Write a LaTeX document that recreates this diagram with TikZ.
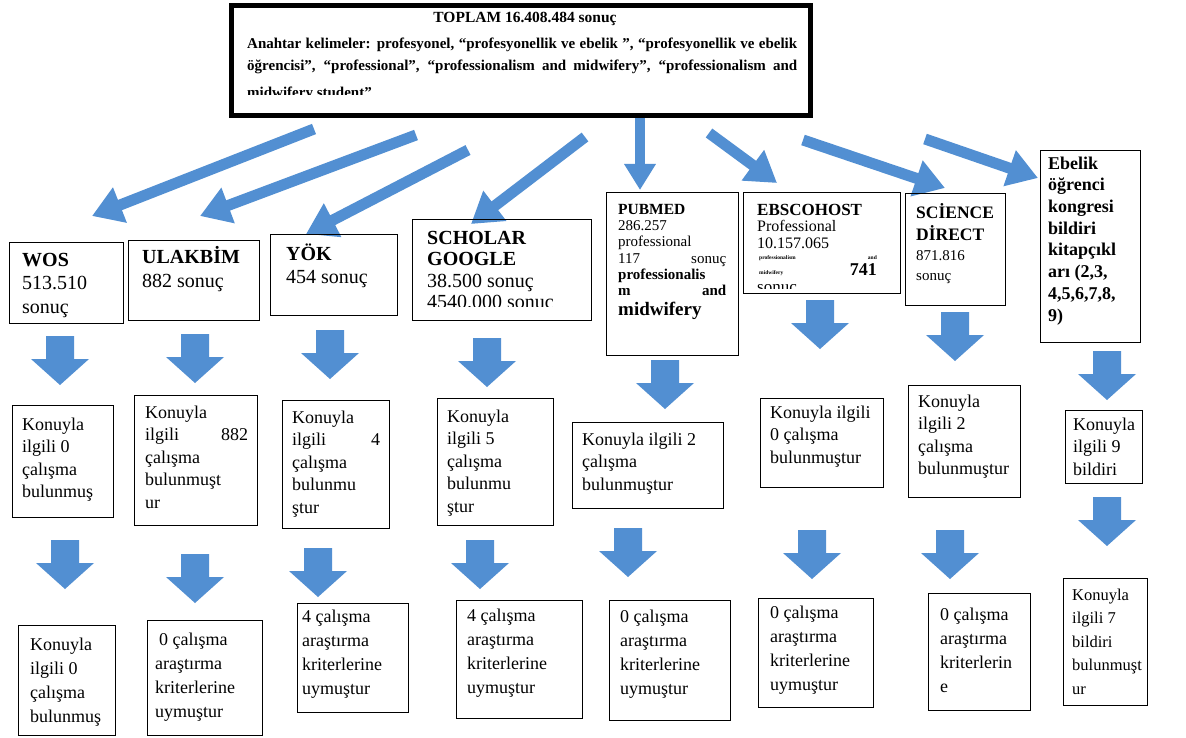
\documentclass[tikz,border=0pt]{standalone}
\usepackage{fontspec}
\setmainfont{Liberation Serif}
\usetikzlibrary{arrows.meta}
\definecolor{ablue}{RGB}{82,143,210}
\newcommand\fsz[2]{\fontsize{#1}{#2}\selectfont}
\newcommand\jl[1]{{\spaceskip=.25em plus 1fil\xspaceskip=0pt\relax\makebox[\hsize][s]{#1}}}
\newcommand\bxn[5]{\node[bx, minimum width={#4pt-#2pt}, minimum height={#5pt-#3pt}] (#1) at (#2,#3) {};}
\newcommand\darr[3]{\coordinate (#1) at (#2,#3);
  \fill[ablue, shift={(#1)}] (-14,0) -- (14,0) -- (14,23) -- (29,23) -- (0,49) -- (-29,23) -- (-14,23) -- cycle;}
\tikzset{
  bx/.style={draw=black, line width=1.2pt, anchor=north west, inner sep=0pt},
  tx/.style={anchor=north west, inner sep=0pt, align=left,
             execute at begin node={\spaceskip=0pt\xspaceskip=0pt\relax}},
  rowtx/.style={tx, font=\fsz{18}{22.5}, text width=120pt},
  lowtx/.style={tx, font=\fsz{18}{24}, text width=120pt},
  bigtx/.style={tx, font=\fsz{20}{23.5}, text width=110pt},
  sl/.style={ablue, line width=11pt, line cap=butt, -{Triangle[width=36pt,length=30pt]}},
}
\begin{document}
\begin{tikzpicture}[x=1pt,y=-1pt]
\useasboundingbox (0,0) rectangle (1186,738);
\fill[white] (0,0) rectangle (1186,738);

% ---------- top box ----------
\node[draw=black, line width=5pt, anchor=north west, inner sep=0pt,
      minimum width=579pt, minimum height=110pt] (top) at (229,3) {};
\node[anchor=base, inner sep=0pt, font=\bfseries\fsz{15.5}{18}] (toplam) at (525,23) {TOPLAM 16.408.484 sonuç};
\begin{scope}
\clip (233,7) rectangle (804,95);
\node[tx, font=\bfseries\fsz{15}{21.5}, text width=550pt] (keys) at (247,33.45)
 {\strut\jl{Anahtar kelimeler: profesyonel, “profesyonellik ve ebelik ”, “profesyonellik ve ebelik}\\
  \jl{öğrencisi”, “professional”, “professionalism and midwifery”, “professionalism and}\\[6pt]
  midwifery student”};
\end{scope}

% ---------- slanted arrows ----------
\coordinate (s1) at (314,129); \coordinate (e1) at (92,216);
\coordinate (s2) at (416,135); \coordinate (e2) at (200,216);
\coordinate (s3) at (468,150); \coordinate (e3) at (306,234);
\coordinate (s4) at (585,137); \coordinate (e4) at (471,224);
\coordinate (s5) at (640,118); \coordinate (e5) at (640,190);
\coordinate (s6) at (709,133); \coordinate (e6) at (777,183);
\coordinate (s7) at (803,140); \coordinate (e7) at (945,188);
\coordinate (s8) at (925,139); \coordinate (e8) at (1038,178);
\draw[sl] (s1) -- (e1);
\draw[sl] (s2) -- (e2);
\draw[sl] (s3) -- (e3);
\draw[sl] (s4) -- (e4);
\draw[sl, line width=10pt, -{Triangle[width=30pt,length=26pt]}] (s5) -- (e5);
\draw[sl] (s6) -- (e6);
\draw[sl] (s7) -- (e7);
\draw[sl] (s8) -- (e8);

% ---------- row 1 ----------
\bxn{wos}{9}{242}{123}{323}
\node[bigtx] (wos-t) at (22,249.55) {\strut\textbf{WOS}\\513.510\\sonuç};
\bxn{ulak}{128}{240}{259}{320}
\node[bigtx] (ulak-t) at (142,246.55) {\strut\textbf{ULAKBİM}\\882 sonuç};
\bxn{yok}{270}{234}{397}{315}
\node[bigtx] (yok-t) at (286,243.55) {\strut\textbf{YÖK}\\454 sonuç};
\bxn{sch}{412}{219}{591}{320}
\begin{scope}
\clip (413,220) rectangle (590,306);
\node[tx, font=\bfseries\fsz{20}{21.5}, text width=160pt] (sch-t) at (427,228.95)
 {\strut SCHOLAR\\GOOGLE\\{\mdseries 38.500 sonuç}\\{\mdseries 4540.000 sonuç}};
\end{scope}
\bxn{pub}{606}{192}{738}{355}
\node[tx, font=\fsz{15}{16.3}, text width=108pt] (pub-t) at (618,202.6)
 {\strut{\bfseries\fsz{15.5}{16.3}PUBMED}\\286.257\\professional\\\jl{117 sonuç}\\
  \textbf{professionalis}\\\jl{\bfseries m and}\\[3pt]{\bfseries\fsz{19}{16.3}midwifery}};
\bxn{ebs}{743}{192}{900}{293}
\node[tx, font=\fsz{16}{16.5}, text width=125pt] (ebs-t) at (757,203.45)
 {\strut{\bfseries\fsz{17}{16.5}EBSCOHOST}\\Professional\\10.157.065};
\node[anchor=base west, inner sep=0pt, font=\bfseries\fsz{5.5}{7}] (ebs-t2) at (759,259) {professionalism};
\node[anchor=base east, inner sep=0pt, font=\bfseries\fsz{5.5}{7}] (ebs-t3) at (877,259) {and};
\node[anchor=base west, inner sep=0pt, font=\bfseries\fsz{5.5}{7}] (ebs-t4) at (759,274) {midwifery};
\node[anchor=base east, inner sep=0pt, font=\bfseries\fsz{18}{20}] (ebs-t5) at (877,276) {741};
\begin{scope}
\clip (744,193) rectangle (899,288);
\node[anchor=base west, inner sep=0pt, font=\fsz{17}{20}] (ebs-t6) at (757,292) {sonuç};
\end{scope}
\bxn{sci}{905}{193}{1005}{305}
\node[tx, font=\bfseries\fsz{17.5}{21}, text width=90pt] (sci-t) at (916,203.3) {\strut SCİENCE\\DİRECT};
\node[tx, font=\fsz{15}{20}, text width=90pt] (sci-t2) at (916,246) {\strut 871.816\\sonuç};
\bxn{ebe}{1040}{150}{1140}{342}
\node[tx, font=\bfseries\fsz{18}{21.7}, text width=90pt] (ebe-t) at (1048,153.8)
 {\strut Ebelik\\öğrenci\\kongresi\\bildiri\\kitapçıkl\\arı (2,3,\\4,5,6,7,8,\\9)};

% ---------- arrows row A ----------
\darr{da1}{60}{336}
\darr{da2}{195}{334}
\darr{da3}{330}{330}
\darr{da4}{487}{338}
\darr{da5}{665}{360}
\darr{da6}{820}{300}
\darr{da7}{955}{312}
\darr{da8}{1107}{351}

% ---------- row 2 ----------
\bxn{a2}{12}{405}{113}{517}
\node[rowtx] (a2-t) at (22,414.25) {\strut Konuyla\\ilgili 0\\çalışma\\bulunmuş};
\bxn{b2}{134}{395}{257}{525}
\node[rowtx, text width=103pt] (b2-t) at (145,402.25) {\strut Konuyla\\\jl{ilgili 882}\\çalışma\\bulunmuşt\\ur};
\bxn{c2}{282}{400}{389}{528}
\node[rowtx, text width=88pt] (c2-t) at (292,407.25) {\strut Konuyla\\\jl{ilgili 4}\\çalışma\\bulunmu\\ştur};
\bxn{d2}{437}{398}{553}{525}
\node[rowtx] (d2-t) at (447,406.25) {\strut Konuyla\\ilgili 5\\çalışma\\bulunmu\\ştur};
\bxn{e2}{572}{422}{723}{508}
\node[rowtx, text width=140pt] (e2-t) at (582,429.25) {\strut Konuyla ilgili 2\\çalışma\\bulunmuştur};
\bxn{f2}{760}{398}{883}{487}
\node[rowtx] (f2-t) at (770,402.25) {\strut Konuyla ilgili\\0 çalışma\\bulunmuştur};
\bxn{g2}{908}{385}{1020}{497}
\node[rowtx] (g2-t) at (918,391.25) {\strut Konuyla\\ilgili 2\\çalışma\\bulunmuştur};
\bxn{h2}{1065}{410}{1142}{483}
\node[rowtx] (h2-t) at (1073,414.25) {\strut Konuyla\\ilgili 9\\bildiri};

% ---------- arrows row B ----------
\darr{db1}{65}{540}
\darr{db2}{195}{554}
\darr{db3}{318}{548}
\darr{db4}{480}{540}
\darr{db5}{628}{528}
\darr{db6}{812}{530}
\darr{db7}{950}{530}
\darr{db8}{1107}{497}

% ---------- row 3 ----------
\bxn{a3}{18}{625}{115}{735}
\node[lowtx] (a3-t) at (30,633.2) {\strut Konuyla\\ilgili 0\\çalışma\\bulunmuş};
\bxn{b3}{147}{620}{262}{735}
\node[lowtx] (b3-t) at (155,628.2) {\strut\hspace{4pt}0 çalışma\\araştırma\\kriterlerine\\uymuştur};
\bxn{c3}{297}{603}{408}{712}
\node[lowtx] (c3-t) at (302,605.2) {\strut 4 çalışma\\araştırma\\kriterlerine\\uymuştur};
\bxn{d3}{456}{600}{582}{718}
\node[lowtx] (d3-t) at (467,604.2) {\strut 4 çalışma\\araştırma\\kriterlerine\\uymuştur};
\bxn{e3}{609}{600}{730}{720}
\node[lowtx] (e3-t) at (620,605.2) {\strut 0 çalışma\\araştırma\\kriterlerine\\uymuştur};
\bxn{f3}{758}{598}{873}{707}
\node[lowtx] (f3-t) at (770,601.2) {\strut 0 çalışma\\araştırma\\kriterlerine\\uymuştur};
\bxn{g3}{928}{593}{1030}{710}
\node[lowtx] (g3-t) at (940,603.2) {\strut 0 çalışma\\araştırma\\kriterlerin\\e};
\bxn{h3}{1063}{578}{1147}{705}
\node[lowtx, font=\fsz{16.5}{23.5}] (h3-t) at (1072,583.55) {\strut Konuyla\\ilgili 7\\bildiri\\bulunmuşt\\ur};
\end{tikzpicture}
\end{document}
